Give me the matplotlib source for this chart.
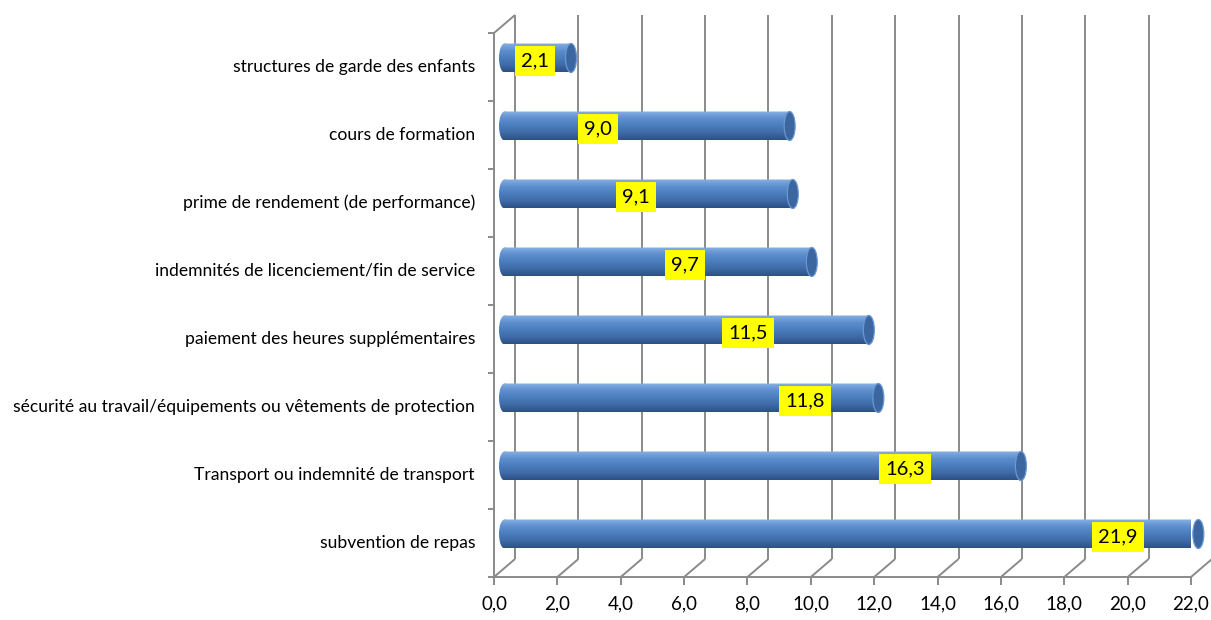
import numpy as np
import matplotlib
matplotlib.use('Agg')
from matplotlib import pyplot as plt
from matplotlib.patches import Ellipse, PathPatch
from matplotlib.path import Path
from matplotlib.transforms import Affine2D
from matplotlib.colors import LinearSegmentedColormap

# data (bottom to top)
categories = ['subvention de repas',
              'Transport ou indemnité de transport',
              'sécurité au travail/équipements ou vêtements de protection',
              'paiement des heures supplémentaires',
              'indemnités de licenciement/fin de service',
              'prime de rendement (de performance)',
              'cours de formation',
              'structures de garde des enfants']
values = [21.9, 16.3, 11.8, 11.5, 9.7, 9.1, 9.0, 2.1]
label_x = [19.36, 12.64, 9.49, 7.69, 5.70, 4.15, 2.95, 0.96]  # where Excel put the data labels
xticks = np.arange(0, 24, 2)

plt.rcParams['font.family'] = ['Lato', 'DejaVu Sans']

W, H = 1211, 620
fig = plt.figure(figsize=(W / 100, H / 100), dpi=100)
# front plane of the 3d box, in pixels
x0, x1, ytop, ybot = 494, 1191, 33, 577
ax = fig.add_axes([x0 / W, (H - ybot) / H, (x1 - x0) / W, (ybot - ytop) / H])
ax.set_xlim(0, 22)
ax.set_ylim(-0.5, 7.5)
ax.axis('off')

pxx = 22 / (x1 - x0)          # data units per pixel
pxy = 8 / (ybot - ytop)
ddx, ddy = 21 * pxx, 18 * pxy  # depth offset of back wall
bdx, bdy = ddx / 2, ddy / 2    # bars sit halfway in depth

grid = '#8a8a8a'
kw = dict(color=grid, lw=1.4, clip_on=False, solid_capstyle='butt', zorder=1)

# back wall gridlines + floor diagonals + tick marks
for v in xticks:
    ax.plot([v + ddx, v + ddx], [-0.5 + ddy, 7.5 + ddy], **kw)
    ax.plot([v, v + ddx], [-0.5, -0.5 + ddy], **kw)
    ax.plot([v, v], [-0.5, -0.5 - 8 * pxy], **kw)
    ax.text(v, -0.5 - 27 * pxy, f'{v:.1f}'.replace('.', ','), ha='center', va='center',
            fontsize=13.5, color='black')
ax.plot([0, 22], [-0.5, -0.5], **kw)
# side wall
ax.plot([0, 0], [-0.5, 7.5], **kw)
ax.plot([0, ddx], [7.5, 7.5 + ddy], **kw)
for b in np.arange(-0.5, 8, 1):
    ax.plot([0, -6 * pxx], [b, b], **kw)

cmap = LinearSegmentedColormap.from_list('cyl', ['#86b0e3', '#5d8ecd', '#4c7dbd', '#3f6ba8', '#2c5186'])
grad = np.linspace(0, 1, 64).reshape(-1, 1)
bh = 29 * pxy
ew = 11 * pxx

for i, (v, lab, lx) in enumerate(zip(values, categories, label_x)):
    yc = i + bdy
    xs, xe = bdx, v + bdx
    rect = Path([(xs, yc - bh / 2), (xe, yc - bh / 2), (xe, yc + bh / 2), (xs, yc + bh / 2), (xs, yc - bh / 2)],
                [Path.MOVETO, Path.LINETO, Path.LINETO, Path.LINETO, Path.CLOSEPOLY])
    ell = Path.unit_circle().transformed(Affine2D().scale(ew / 2, bh / 2).translate(xs, yc))
    body = PathPatch(Path.make_compound_path(rect, ell), fc='none', ec='none', transform=ax.transData)
    ax.add_patch(body)
    body.set_clip_on(False)
    im = ax.imshow(grad[::-1], cmap=cmap, aspect='auto', origin='lower',
                   extent=[xs - ew / 2, xe, yc - bh / 2, yc + bh / 2], zorder=2)
    im.set_clip_path(body)
    im.set_clip_box(None)
    # right cap
    ax.add_patch(Ellipse((xe, yc), ew, bh, fc='#3b66a0', ec='#6a98d2', lw=0.9, zorder=3, clip_on=False))
    # category label
    ax.text(-19 * pxx, i, lab, ha='right', va='center', fontsize=12.6, color='black', clip_on=False)
    # data label
    ax.text(lx + bdx, i + 0.09, f'{v:.1f}'.replace('.', ','), ha='center', va='center',
            fontsize=14.5, color='black', zorder=4,
            bbox=dict(boxstyle='square,pad=0.32', fc='#ffff00', ec='none'))

ax.set_xlim(0, 22)
ax.set_ylim(-0.5, 7.5)
fig.savefig('out.png', dpi=100, facecolor='white')
